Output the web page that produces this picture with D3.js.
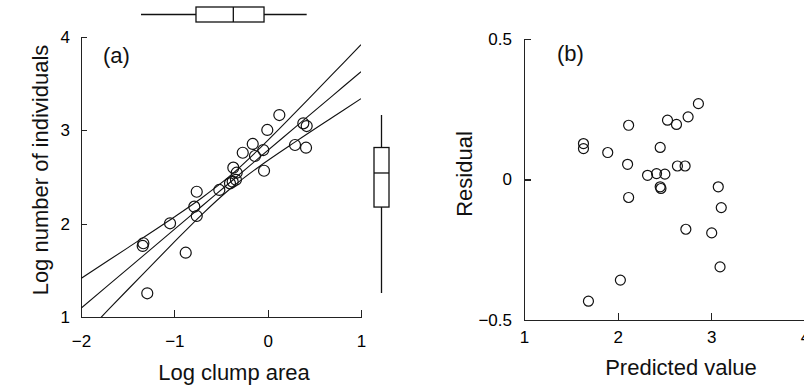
<!DOCTYPE html>
<html>
<head>
<meta charset="utf-8">
<script src="https://cdn.jsdelivr.net/npm/d3@7"></script>
<style>
	body { margin: 0; background: #fff; }
	svg { display: block; }
	.axis path, .axis line { stroke: #222; stroke-width: 1.2; shape-rendering: crispEdges; }
	.axis text { font-family: "Liberation Sans", Arial, sans-serif; font-size: 17px; fill: #000; }
	.title { font-family: "Liberation Sans", Arial, sans-serif; font-size: 22px; fill: #111; }
</style>
</head>
<body>
<div id="vis"></div>
<script>
// panel (a): log clump area vs log number of individuals
var clumpArea = [0.125, -0.004, 0.382, 0.418, 0.293, 0.411, -0.160, -0.267, -0.047, -0.136,
	-0.039, -0.368, -0.332, -0.375, -0.404, -0.518, -0.760, -0.786, -0.760, -1.046,
	-1.332, -1.339, -0.878, -1.290, -0.340];
var individuals = [3.164, 3.004, 3.075, 3.046, 2.843, 2.814, 2.854, 2.760, 2.789, 2.725,
	2.567, 2.600, 2.546, 2.450, 2.432, 2.361, 2.342, 2.182, 2.082, 2.004,
	1.790, 1.761, 1.689, 1.254, 2.470];

// fitted line and its band
var bandX = [-2, -1.5, -1, -0.7, -0.42, -0.1, 0.3, 0.7, 1.0];
var fitMid = [1.093, 1.516, 1.938, 2.192, 2.428, 2.699, 3.037, 3.375, 3.628];
var fitUpper = [1.413, 1.741, 2.072, 2.281, 2.498, 2.793, 3.195, 3.607, 3.917];
var fitLower = [0.773, 1.292, 1.804, 2.103, 2.358, 2.605, 2.879, 3.143, 3.339];

// marginal box plots: min, q1, median, q3, max
var xBox = [-1.357, -0.768, -0.368, -0.039, 0.418];
var yBox = [1.257, 2.178, 2.543, 2.816, 3.164];

// panel (b): residuals
var predicted = [2.862, 2.752, 2.532, 2.628, 2.117, 1.635, 1.635, 1.894, 2.454, 2.106,
	2.638, 2.720, 2.319, 2.415, 2.504, 3.074, 2.454, 2.462, 2.117, 3.106,
	2.728, 3.004, 3.093, 2.029, 1.688];
var residual = [0.270, 0.223, 0.211, 0.196, 0.193, 0.128, 0.110, 0.096, 0.114, 0.054,
	0.048, 0.048, 0.015, 0.021, 0.019, -0.026, -0.026, -0.032, -0.064, -0.100,
	-0.177, -0.190, -0.311, -0.358, -0.433];

var xTicksA = [-2, -1, 0, 1];
var yTicksA = [1, 2, 3, 4];
var xTicksB = [1, 2, 3, 4];
var yTicksB = [-0.5, 0, 0.5];

var width = 804;
var height = 386;

var svg = d3.select('#vis')
	.append('svg')
	.attr('width', width)
	.attr('height', height);

var fmt = function(d) { return String(d).replace('-', '\u2212'); };

// ---------- panel (a) ----------
var xA = d3.scaleLinear().domain([-2, 1]).range([81, 361]);
var yA = d3.scaleLinear().domain([1, 4]).range([317, 37]);

svg.append('g')
	.attr('class', 'axis')
	.attr('transform', 'translate(0,' + yA(1) + ')')
	.call(d3.axisBottom(xA).tickValues(xTicksA).tickFormat(fmt)
		.tickSizeInner(-7).tickSizeOuter(0).tickPadding(18));

svg.append('g')
	.attr('class', 'axis')
	.attr('transform', 'translate(' + xA(-2) + ',0)')
	.call(d3.axisLeft(yA).tickValues(yTicksA).tickFormat(fmt)
		.tickSizeInner(-6).tickSizeOuter(0).tickPadding(11));

svg.append('clipPath')
	.attr('id', 'clipA')
	.append('rect')
	.attr('x', xA(-2))
	.attr('y', yA(4))
	.attr('width', xA(1) - xA(-2))
	.attr('height', yA(1) - yA(4));

var bandLine = function(vals) {
	return d3.line()
		.x(function(d, i) { return xA(bandX[i]); })
		.y(function(d) { return yA(d); })
		.curve(d3.curveCatmullRom)(vals);
};

svg.append('g')
	.attr('clip-path', 'url(#clipA)')
	.selectAll('path')
	.data([fitUpper, fitMid, fitLower])
	.enter().append('path')
	.attr('d', bandLine)
	.attr('fill', 'none')
	.attr('stroke', '#111')
	.attr('stroke-width', 1.1);

svg.append('g')
	.selectAll('circle')
	.data(clumpArea)
	.enter().append('circle')
	.attr('cx', function(d) { return xA(d); })
	.attr('cy', function(d, i) { return yA(individuals[i]); })
	.attr('r', 5.5)
	.attr('fill', 'none')
	.attr('stroke', '#111')
	.attr('stroke-width', 1.2);

// top box plot (x)
var bx = svg.append('g').attr('fill', 'none').attr('stroke', '#111').attr('stroke-width', 1.3);
bx.append('line').attr('x1', xA(xBox[0])).attr('x2', xA(xBox[1])).attr('y1', 14.5).attr('y2', 14.5);
bx.append('line').attr('x1', xA(xBox[3])).attr('x2', xA(xBox[4])).attr('y1', 14.5).attr('y2', 14.5);
bx.append('rect').attr('x', xA(xBox[1])).attr('y', 7).attr('width', xA(xBox[3]) - xA(xBox[1])).attr('height', 15);
bx.append('line').attr('x1', xA(xBox[2])).attr('x2', xA(xBox[2])).attr('y1', 7).attr('y2', 22);

// right box plot (y)
var by = svg.append('g').attr('fill', 'none').attr('stroke', '#111').attr('stroke-width', 1.3);
by.append('line').attr('x1', 381.5).attr('x2', 381.5).attr('y1', yA(yBox[0])).attr('y2', yA(yBox[1]));
by.append('line').attr('x1', 381.5).attr('x2', 381.5).attr('y1', yA(yBox[3])).attr('y2', yA(yBox[4]));
by.append('rect').attr('x', 374).attr('y', yA(yBox[3])).attr('width', 15).attr('height', yA(yBox[1]) - yA(yBox[3]));
by.append('line').attr('x1', 374).attr('x2', 389).attr('y1', yA(yBox[2])).attr('y2', yA(yBox[2]));

svg.append('text').attr('class', 'title').attr('x', 103).attr('y', 63).text('(a)');

svg.append('text')
	.attr('class', 'title')
	.attr('x', 234)
	.attr('y', 380)
	.attr('text-anchor', 'middle')
	.text('Log clump area');

svg.append('text')
	.attr('class', 'title')
	.attr('transform', 'translate(48,170) rotate(-90)')
	.attr('text-anchor', 'middle')
	.text('Log number of individuals');

// ---------- panel (b) ----------
var xB = d3.scaleLinear().domain([1, 4]).range([524, 805]);
var yB = d3.scaleLinear().domain([-0.5, 0.5]).range([320, 39]);

svg.append('g')
	.attr('class', 'axis')
	.attr('transform', 'translate(0,' + yB(-0.5) + ')')
	.call(d3.axisBottom(xB).tickValues(xTicksB).tickFormat(fmt)
		.tickSizeInner(-7).tickSizeOuter(0).tickPadding(11));

svg.append('g')
	.attr('class', 'axis')
	.attr('transform', 'translate(' + xB(1) + ',0)')
	.call(d3.axisLeft(yB).tickValues(yTicksB).tickFormat(fmt)
		.tickSizeInner(-7).tickSizeOuter(0).tickPadding(12));

svg.append('g')
	.selectAll('circle')
	.data(predicted)
	.enter().append('circle')
	.attr('cx', function(d) { return xB(d); })
	.attr('cy', function(d, i) { return yB(residual[i]); })
	.attr('r', 5)
	.attr('fill', 'none')
	.attr('stroke', '#111')
	.attr('stroke-width', 1.2);

svg.append('text').attr('class', 'title').attr('x', 557).attr('y', 61).text('(b)');

svg.append('text')
	.attr('class', 'title')
	.attr('x', 681)
	.attr('y', 375)
	.attr('text-anchor', 'middle')
	.text('Predicted value');

svg.append('text')
	.attr('class', 'title')
	.attr('transform', 'translate(472,174) rotate(-90)')
	.attr('text-anchor', 'middle')
	.text('Residual');
</script>
</body>
</html>
